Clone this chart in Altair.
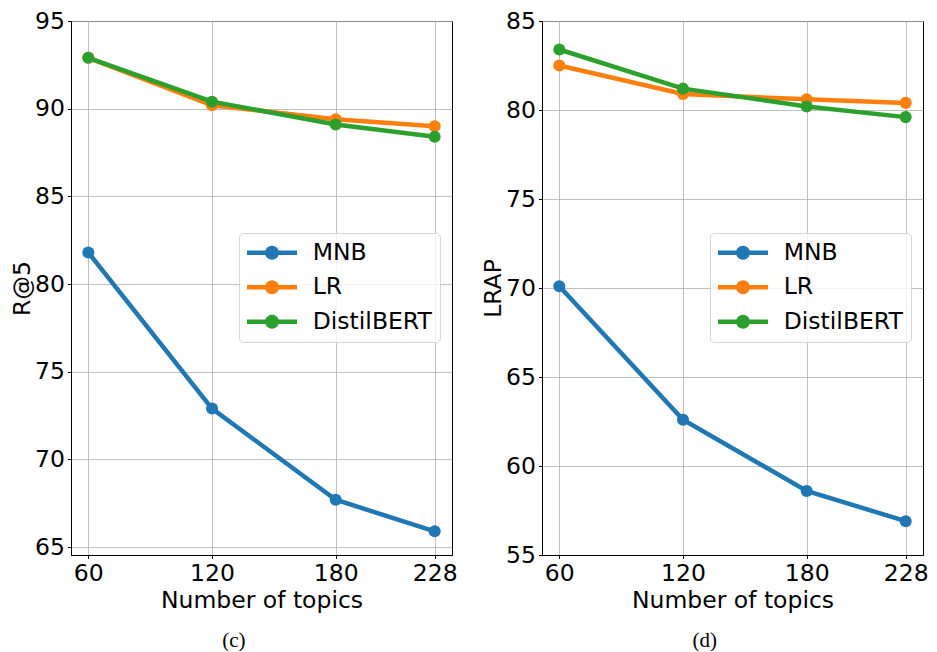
import math
import altair as alt
import pandas as pd

topics = [60, 120, 180, 228]
models = ["MNB", "LR", "DistilBERT"]
colors = ["#1f77b4", "#ff7f0e", "#2ca02c"]

r5_mnb = [81.8, 72.9, 67.7, 65.9]
r5_lr = [92.9, 90.2, 89.4, 89.0]
r5_distil = [92.9, 90.4, 89.1, 88.4]

lrap_mnb = [70.1, 62.6, 58.6, 56.9]
lrap_lr = [82.5, 80.9, 80.6, 80.4]
lrap_distil = [83.4, 81.2, 80.2, 79.6]

r5_ticks = [65, 70, 75, 80, 85, 90, 95]
lrap_ticks = [55, 60, 65, 70, 75, 80, 85]


def make_df(series):
    rows = []
    for m, vals in zip(models, series):
        for t, v in zip(topics, vals):
            rows.append({"topics": t, "value": v, "model": m})
    return pd.DataFrame(rows)


FONT = "DejaVu Sans"
FS = 23.5

# legend symbol: a short thick line with a dot in the middle
# (unit coords; symbolSize 400 -> 1 unit = 10 px)
_half_len = 2.5
_half_t = 0.225
_r = 0.7
_circle = " ".join(
    ("M" if i == 0 else "L") + f"{_r * math.cos(2 * math.pi * i / 24):.4f},{_r * math.sin(2 * math.pi * i / 24):.4f}"
    for i in range(24)
) + " Z"
SYMBOL = (f"M-{_half_len},-{_half_t} L{_half_len},-{_half_t} L{_half_len},{_half_t} "
          f"L-{_half_len},{_half_t} Z " + _circle)


def panel(df, ytitle, ydomain, yticks, caption):
    base = alt.Chart(df).encode(
        x=alt.X("topics:Q", scale=alt.Scale(domain=[51.6, 236.4], nice=False, zero=False),
                axis=alt.Axis(values=topics, title="Number of topics")),
        y=alt.Y("value:Q", scale=alt.Scale(domain=ydomain, nice=False, zero=False),
                axis=alt.Axis(values=yticks, title=ytitle, titlePadding=0)),
        color=alt.Color("model:N", scale=alt.Scale(domain=models, range=colors),
                        sort=models,
                        legend=alt.Legend(title=None, orient="none", legendX=168, legendY=212,
                                          symbolType=SYMBOL, symbolSize=400,
                                          symbolOffset=13.25, labelOffset=29,
                                          symbolStrokeWidth=0)),
    )
    line = base.mark_line(strokeWidth=4.5)
    pts = base.mark_point(filled=True, size=145, opacity=1)
    return alt.layer(line, pts).properties(
        width=381, height=534,
        title=alt.TitleParams(caption, orient="bottom", frame="bounds", anchor="middle",
                              font="Liberation Serif", fontSize=21, fontWeight="normal",
                              color="black", offset=18),
    )


left = panel(make_df([r5_mnb, r5_lr, r5_distil]), "R@5", [64.55, 95], r5_ticks, "(c)")
right = panel(make_df([lrap_mnb, lrap_lr, lrap_distil]), "LRAP", [55, 85], lrap_ticks, "(d)")

chart = alt.hconcat(left, right, spacing=23).resolve_scale(
    color="independent", y="independent"
).resolve_legend(color="independent").properties(
    padding={"left": 2, "top": 0, "right": 0, "bottom": 0}, background="white"
).configure_view(
    stroke="black", strokeWidth=1
).configure_axis(
    domainColor="black", domainWidth=1, tickColor="black", tickSize=3.5, tickWidth=1,
    gridColor="#b0b0b0", gridWidth=0.8,
    labelFont=FONT, labelFontSize=FS, labelColor="black", labelPadding=3,
    titleFont=FONT, titleFontSize=FS, titleFontWeight="normal", titleColor="black",
    labelFlush=False, labelOverlap=False,
).configure_axisX(titlePadding=3).configure_legend(
    fillColor="rgba(255,255,255,0.8)", strokeColor="#d6d6d6", cornerRadius=4,
    padding=8, rowPadding=9.5, labelFont=FONT, labelFontSize=FS, labelColor="black",
)

chart.save("out.html", embed_options={"renderer": "svg", "actions": False})
